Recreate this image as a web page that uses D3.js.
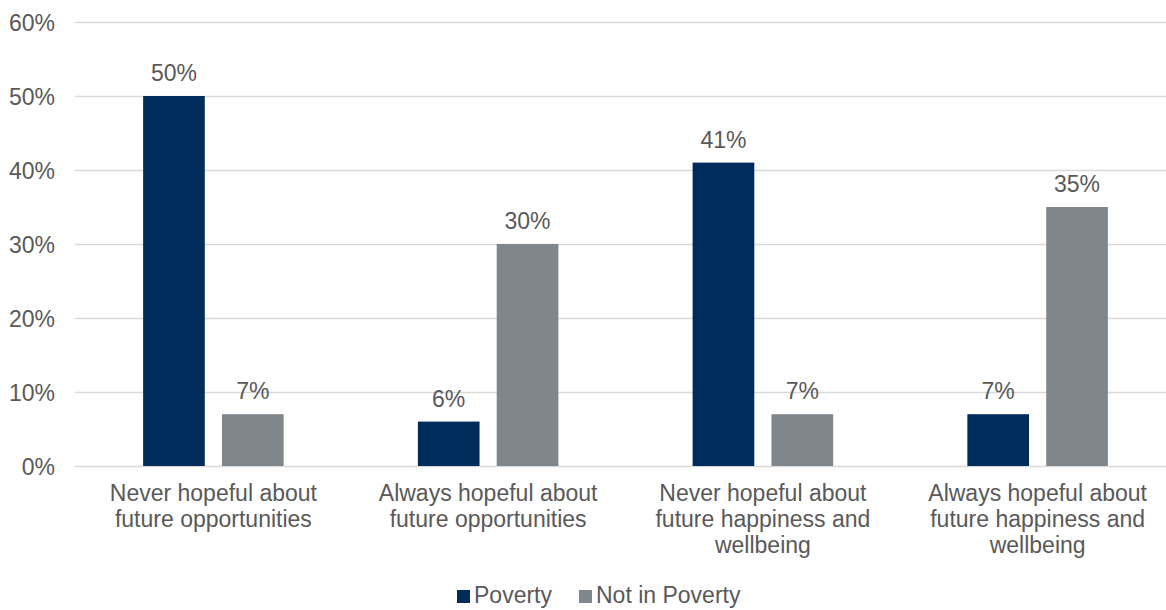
<!DOCTYPE html>
<html>
<head>
<meta charset="utf-8">
<script src="https://cdn.jsdelivr.net/npm/d3@7"></script>
<style>
  html, body { margin: 0; padding: 0; background: #ffffff; }
  svg { display: block; font-family: "Liberation Sans", Arial, sans-serif; }
</style>
</head>
<body>
<svg id="chart" width="1166" height="610"></svg>
<script>
// Share of children hopeful about the future, by poverty status
const categories = [
  ["Never hopeful about", "future opportunities"],
  ["Always hopeful about", "future opportunities"],
  ["Never hopeful about", "future happiness and", "wellbeing"],
  ["Always hopeful about", "future happiness and", "wellbeing"]
];
const seriesNames = ["Poverty", "Not in Poverty"];
const povertyValues = [50, 6, 41, 7];
const notInPovertyValues = [7, 30, 7, 35];
const yTicks = [0, 10, 20, 30, 40, 50, 60];

const seriesColors = ["#002c5c", "#7f878c"];
const textColor = "#595959";
const fontSize = 23;

const svg = d3.select("#chart");

const plot = { left: 76, right: 1175, top: 22, bottom: 466 };
const catIndex = categories.map((d, i) => i);

const x0 = d3.scaleBand()
  .domain(catIndex)
  .range([plot.left, plot.right])
  .paddingInner(0.4886)
  .paddingOuter(0.2443);

const x1 = d3.scaleBand()
  .domain(seriesNames)
  .range([0, x0.bandwidth()])
  .paddingInner(0.2177)
  .paddingOuter(0);

const y = d3.scaleLinear()
  .domain([0, 60])
  .range([plot.bottom, plot.top]);

// Horizontal gridlines and y tick labels
const yAxis = d3.axisLeft(y)
  .tickValues(yTicks)
  .tickFormat(d => d + "%")
  .tickSize(-(1166 - 75))
  .tickPadding(20);

const gy = svg.append("g")
  .attr("transform", `translate(75,0)`)
  .call(yAxis);
gy.select(".domain").remove();
gy.selectAll(".tick line")
  .attr("stroke", "#d9d9d9")
  .attr("stroke-width", 1.5);
gy.selectAll(".tick text")
  .attr("fill", textColor)
  .attr("font-size", fontSize)
  .attr("font-family", "Liberation Sans, Arial, sans-serif")
  .attr("dy", "0.35em");

// Bars
const rows = catIndex.map(i => ({
  i,
  values: [
    { key: seriesNames[0], value: povertyValues[i], color: seriesColors[0] },
    { key: seriesNames[1], value: notInPovertyValues[i], color: seriesColors[1] }
  ]
}));

const groups = svg.append("g").selectAll("g")
  .data(rows)
  .join("g")
  .attr("transform", d => `translate(${x0(d.i)},0)`);

groups.selectAll("rect")
  .data(d => d.values)
  .join("rect")
  .attr("x", d => x1(d.key))
  .attr("y", d => y(d.value))
  .attr("width", x1.bandwidth())
  .attr("height", d => y(0) - y(d.value))
  .attr("fill", d => d.color);

// Value labels
groups.selectAll("text.value")
  .data(d => d.values)
  .join("text")
  .attr("class", "value")
  .attr("x", d => x1(d.key) + x1.bandwidth() / 2)
  .attr("y", d => y(d.value) - 15)
  .attr("text-anchor", "middle")
  .attr("fill", textColor)
  .attr("font-size", fontSize)
  .text(d => d.value + "%");

// Category labels
const catLabels = svg.append("g").selectAll("text")
  .data(rows)
  .join("text")
  .attr("x", d => x0(d.i) + x0.bandwidth() / 2)
  .attr("y", 501)
  .attr("text-anchor", "middle")
  .attr("fill", textColor)
  .attr("font-size", fontSize);

catLabels.selectAll("tspan")
  .data(d => categories[d.i])
  .join("tspan")
  .attr("x", function () { return d3.select(this.parentNode).attr("x"); })
  .attr("dy", (d, j) => j === 0 ? 0 : 26)
  .text(d => d);

// Legend
const legendItems = [
  { name: seriesNames[0], color: seriesColors[0], x: 457 },
  { name: seriesNames[1], color: seriesColors[1], x: 579 }
];
const legend = svg.append("g").selectAll("g")
  .data(legendItems)
  .join("g")
  .attr("transform", d => `translate(${d.x},0)`);
legend.append("rect")
  .attr("x", 0)
  .attr("y", 590)
  .attr("width", 13)
  .attr("height", 13)
  .attr("fill", d => d.color);
legend.append("text")
  .attr("x", 17)
  .attr("y", 603)
  .attr("fill", textColor)
  .attr("font-size", fontSize)
  .text(d => d.name);
</script>
</body>
</html>
